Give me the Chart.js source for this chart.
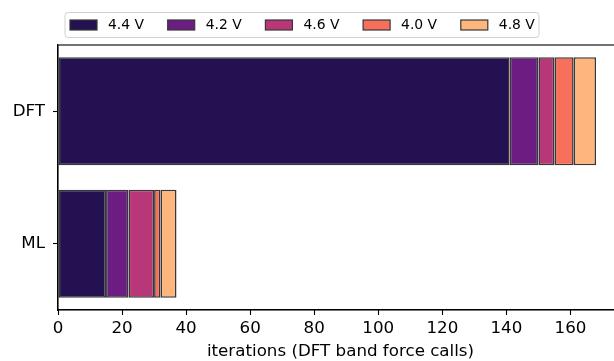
<!DOCTYPE html>
<html>
<head>
<meta charset="utf-8">
<script src="https://cdn.jsdelivr.net/npm/chart.js@4.4.1/dist/chart.umd.min.js"></script>
<style>
  html, body { margin: 0; padding: 0; background: #fff; overflow: hidden; }
  #wrap { width: 614px; height: 361px; overflow: hidden; }
</style>
</head>
<body>
<div id="wrap"><canvas id="barChart" width="624" height="361"></canvas></div>
<script>
const categories = ['DFT', 'ML'];
const voltages = ['4.4 V', '4.2 V', '4.6 V', '4.0 V', '4.8 V'];
const iters44 = [141, 15];
const iters42 = [9, 7];
const iters46 = [5, 8];
const iters40 = [6, 2];
const iters48 = [7, 5];
const xTicks = [0, 20, 40, 60, 80, 100, 120, 140, 160];

const colors = ['#231151', '#6b1d81', '#b73779', '#f7705c', '#feb67c'];
const seriesValues = [iters44, iters42, iters46, iters40, iters48];

const datasets = voltages.map((v, i) => ({
    label: v,
    data: seriesValues[i],
    backgroundColor: colors[i],
    borderColor: '#383838',
    borderWidth: 1.6,
    borderSkipped: false,
    barPercentage: 0.815,
    categoryPercentage: 1.0
}));

// frame around the axes + a matplotlib-style legend box
const framePlugin = {
    id: 'framePlugin',
    afterDraw(chart) {
        const ctx = chart.ctx;
        const a = chart.chartArea;
        ctx.save();
        ctx.strokeStyle = '#000';
        ctx.lineWidth = 1.1;
        ctx.strokeRect(a.left, a.top, a.right - a.left, a.bottom - a.top);

        // legend
        const lx = 65, ly = 12.5, lw = 474, lh = 25;
        ctx.fillStyle = 'rgba(255,255,255,0.8)';
        ctx.strokeStyle = '#d0d0d0';
        ctx.lineWidth = 1;
        ctx.beginPath();
        ctx.roundRect(lx, ly, lw, lh, 3);
        ctx.fill();
        ctx.stroke();
        ctx.font = '13.9px "DejaVu Sans"';
        ctx.textBaseline = 'middle';
        chart.data.datasets.forEach((ds, i) => {
            const x = 70 + i * 97.7;
            const y = ly + lh / 2;
            ctx.fillStyle = ds.backgroundColor;
            ctx.fillRect(x, y - 5, 27, 10);
            ctx.strokeStyle = '#383838';
            ctx.lineWidth = 1.2;
            ctx.strokeRect(x, y - 5, 27, 10);
            ctx.fillStyle = '#000';
            ctx.fillText(ds.label, x + 38, y + 0.5);
        });
        ctx.restore();
    }
};

const barChart = new Chart(document.getElementById('barChart').getContext('2d'), {
    type: 'bar',
    data: {
        labels: categories,
        datasets: datasets
    },
    options: {
        indexAxis: 'y',
        responsive: false,
        animation: false,
        layout: { padding: { top: 45, left: 0, right: 1, bottom: 0 } },
        plugins: {
            legend: { display: false },
            tooltip: { enabled: false }
        },
        scales: {
            x: {
                stacked: true,
                min: 0,
                max: 176.4,
                afterBuildTicks(scale) {
                    scale.ticks = xTicks.map(v => ({ value: v }));
                },
                afterFit(scale) { scale.height = 51; },
                grid: {
                    drawOnChartArea: false,
                    drawTicks: true,
                    tickLength: 5,
                    tickColor: '#000',
                    tickWidth: 1.1
                },
                border: { display: true, color: '#000', width: 1.1 },
                ticks: {
                    color: '#000',
                    padding: 4,
                    maxRotation: 0,
                    font: { family: 'DejaVu Sans', size: 16.7 }
                },
                title: {
                    display: true,
                    text: 'iterations (DFT band force calls)',
                    color: '#000',
                    padding: { top: 0, bottom: -1 },
                    font: { family: 'DejaVu Sans', size: 16.7 }
                }
            },
            y: {
                stacked: true,
                afterFit(scale) { scale.width = 58; },
                grid: {
                    offset: false,
                    drawOnChartArea: false,
                    drawTicks: true,
                    tickLength: 5,
                    tickColor: '#000',
                    tickWidth: 1.1
                },
                border: { display: true, color: '#000', width: 1.1 },
                ticks: {
                    color: '#000',
                    padding: 8,
                    font: { family: 'DejaVu Sans', size: 16.7 }
                }
            }
        }
    },
    plugins: [framePlugin]
});
</script>
</body>
</html>
